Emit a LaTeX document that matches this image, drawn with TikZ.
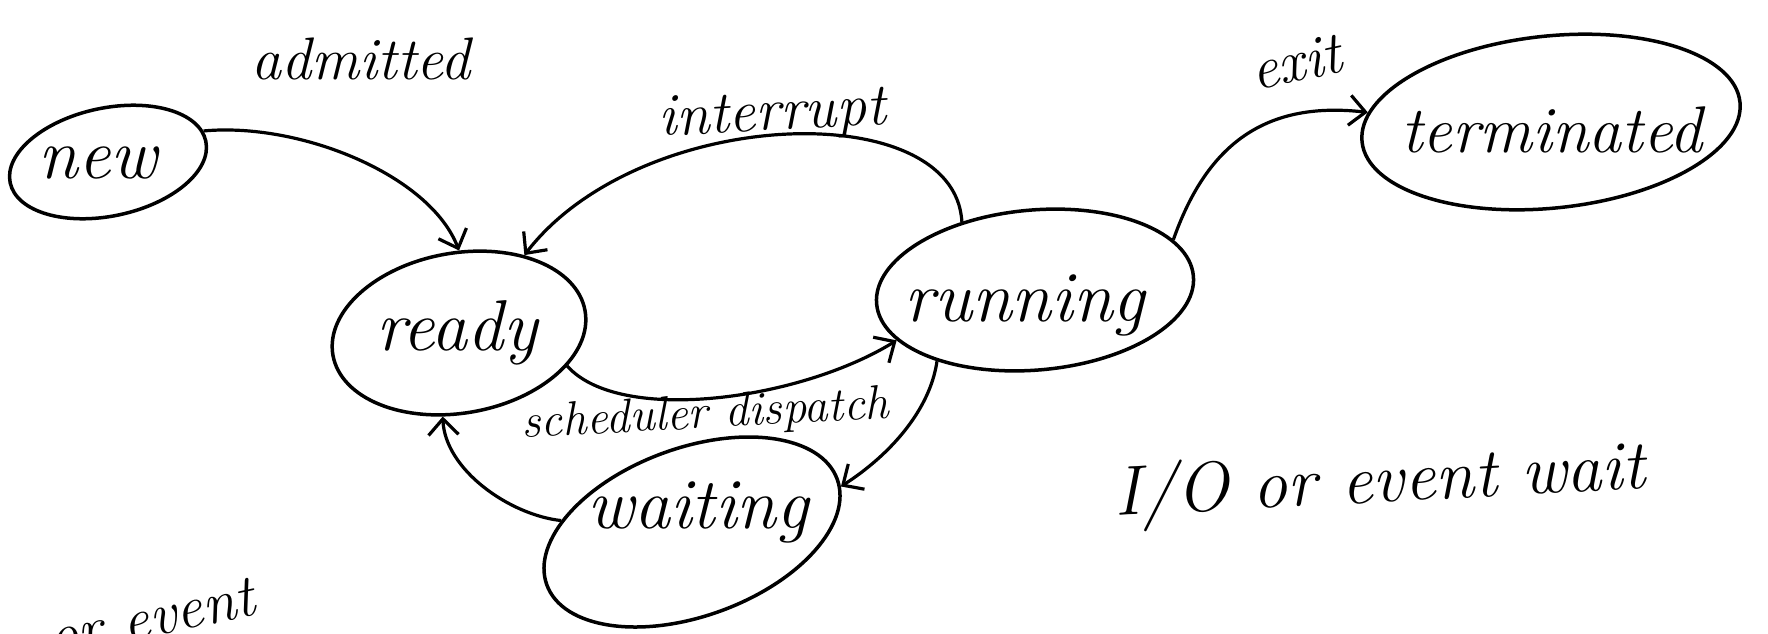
\documentclass[tikz,border=0pt]{standalone}
\usepackage{fontspec}
\usetikzlibrary{shapes.geometric,arrows.meta}
\tikzset{
  stateshape/.style={ellipse, draw, line width=3.5pt, inner sep=0pt},
  statetext/.style={anchor=base, inner sep=0pt, font=\fontsize{72}{80}\selectfont\itshape},
  edgetext/.style={anchor=base, inner sep=0pt, font=\fontsize{60}{66}\selectfont\itshape},
  conn/.style={line width=3.2pt, -{Straight Barb[length=16pt,width=30pt,line width=3.2pt]}}
}
\begin{document}
\begin{tikzpicture}[x=1pt,y=-1pt]
\useasboundingbox (0,0) rectangle (1768,633);
% state outlines
\node[stateshape, minimum width=200pt, minimum height=108pt, rotate=12] (new) at (108,162) {};
\node[stateshape, minimum width=256pt, minimum height=160pt, rotate=10] (ready) at (459,333) {};
\node[stateshape, minimum width=318pt, minimum height=160pt, rotate=5] (running) at (1035,290) {};
\node[stateshape, minimum width=380pt, minimum height=172pt, rotate=6] (terminated) at (1551,122) {};
\node[stateshape, minimum width=309pt, minimum height=168pt, rotate=20] (waiting) at (692,532) {};
% state names
\node[statetext] (newtxt) at (98,178) {new};
\node[statetext] (readytxt) at (457,350) {ready};
\node[statetext] (runningtxt) at (1025,321) {running};
\node[statetext, font=\fontsize{66}{72}\selectfont\itshape] (terminatedtxt) at (1552,152) {terminated};
\node[statetext] (waitingtxt) at (698,528) {waiting};
% connectors
\draw[conn] (new.6) .. controls (300,122) and (430,175) .. (ready.80);
\draw[conn] (running.132) .. controls (955,95) and (640,105) .. (ready.40);
\draw[conn] (ready.-27) .. controls (620,425) and (800,400) .. (running.195);
\draw[conn] (running.211) .. controls (930,410) and (890,455) .. (waiting.-3);
\draw[conn] (waiting.155.5) .. controls (510,515) and (445,470) .. (ready.249);
\draw[conn] (running.15.7) .. controls (1205,150) and (1260,100) .. (terminated.171);
% edge labels
\node[edgetext] (ladmitted) at (361,79) {admitted};
\node[edgetext, rotate=3] (linterrupt) at (773,130) {interrupt};
\node[edgetext, rotate=12] (lexit) at (1300,81) {exit};
\node[edgetext, rotate=3, font=\fontsize{48}{54}\selectfont\itshape] (ldispatch) at (706,428) {scheduler dispatch};
\node[edgetext, rotate=3, font=\fontsize{70}{76}\selectfont\itshape] (lwait) at (1381,502) {I/O or event wait};
\node[edgetext, rotate=12] (levent) at (155,636) {or event};
\end{tikzpicture}
\end{document}
